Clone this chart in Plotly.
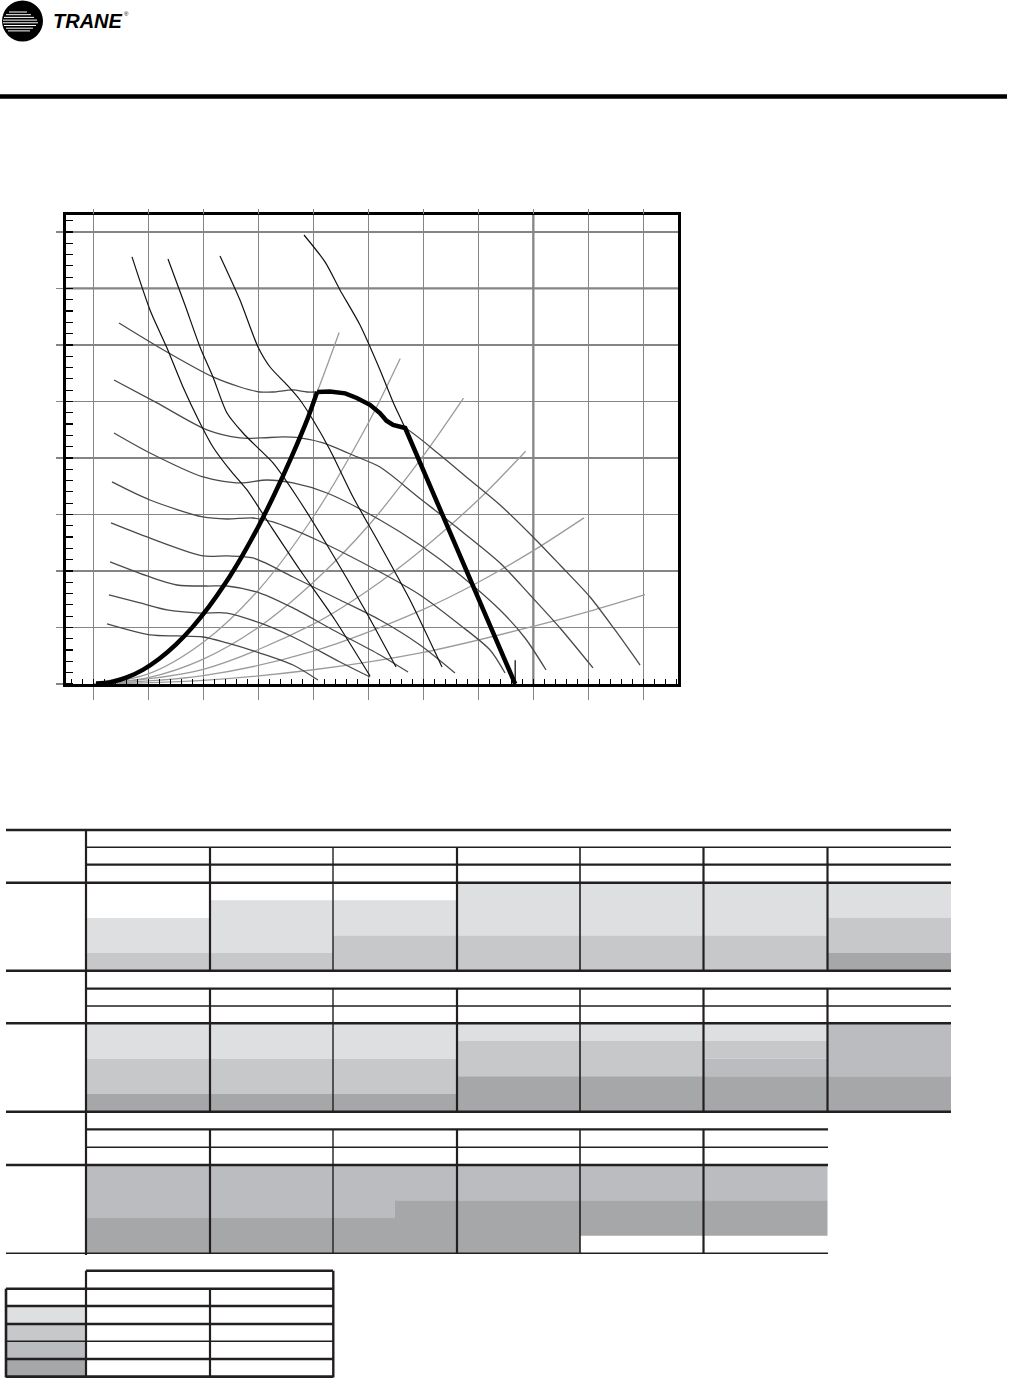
import plotly.graph_objects as go

W, H = 1012, 1378
INK = '#231f20'
GRID = '#858585'

# ---------------- fan-curve data (x: airflow, 1000 cfm ; y: static pressure, in. wg) ----------------
# operating envelope (heavy black line)
env_rise_x = [0.05, 0.30, 0.60, 0.90, 1.20, 1.50, 1.80, 2.10, 2.40, 2.70, 3.00, 3.30, 3.60, 3.90, 4.07]
env_rise_y = [0.004, 0.014, 0.056, 0.125, 0.223, 0.348, 0.501, 0.682, 0.891, 1.128, 1.392, 1.685, 2.005, 2.353, 2.584]
env_top_x = [4.07, 4.30, 4.58, 4.79, 5.03, 5.21, 5.33, 5.45, 5.67, 7.67]
env_top_y = [2.584, 2.588, 2.572, 2.531, 2.470, 2.398, 2.330, 2.292, 2.265, 0.0]

# system curves (light grey)
sys_curves = {
    'A': ([0, 1.0, 2.0, 3.0, 3.5, 4.07, 4.47], [0, 0.150, 0.620, 1.400, 1.910, 2.584, 3.110]),
    'B': ([0, 1, 2, 3, 4, 5, 5.58], [0, 0.090, 0.370, 0.830, 1.480, 2.310, 2.880]),
    'C': ([0, 1, 2, 3, 4, 5, 6, 6.73], [0, 0.056, 0.220, 0.500, 0.900, 1.400, 2.020, 2.530]),
    'D': ([0, 2, 4, 5, 6, 7, 7.86], [0, 0.130, 0.530, 0.830, 1.200, 1.630, 2.060]),
    'E': ([0, 2, 4, 6, 7, 8, 8.92], [0, 0.074, 0.290, 0.660, 0.900, 1.180, 1.470]),
    'F': ([0, 2, 4, 6, 8, 9, 10.03], [0, 0.032, 0.126, 0.280, 0.510, 0.640, 0.790]),
}

# fan speed curves (dark grey)
rpm_curves = {
    'R1': ([0.467, 1.340, 2.176, 2.667, 3.031, 3.267, 3.631, 3.885, 4.067, 4.304, 4.795, 5.213, 5.449, 5.667,
            6.304, 6.849, 7.395, 7.995, 8.485, 9.031, 9.485, 9.940],
           [3.195, 2.938, 2.717, 2.628, 2.584, 2.584, 2.602, 2.584, 2.584, 2.588, 2.531, 2.398, 2.292, 2.265,
            2.027, 1.805, 1.584, 1.301, 1.053, 0.770, 0.478, 0.168]),
    'R2': ([0.376, 1.158, 2.067, 2.667, 3.031, 3.449, 3.758, 4.176, 4.795, 5.213, 5.904, 6.667, 7.395, 7.940,
            8.485, 9.085],
           [2.690, 2.487, 2.248, 2.177, 2.177, 2.186, 2.177, 2.133, 2.009, 1.920, 1.655, 1.363, 1.071, 0.788,
            0.496, 0.142]),
    'R3': ([0.376, 1.031, 1.995, 2.667, 3.158, 3.631, 4.249, 5.213, 5.940, 6.667, 7.395, 7.849, 8.231],
           [2.221, 2.044, 1.832, 1.779, 1.805, 1.779, 1.690, 1.451, 1.230, 0.965, 0.655, 0.407, 0.124]),
    'R4': ([0.340, 1.031, 1.995, 2.431, 2.904, 3.267, 4.067, 5.213, 5.940, 6.667, 7.213, 7.485],
           [1.788, 1.628, 1.478, 1.460, 1.469, 1.434, 1.274, 0.991, 0.788, 0.522, 0.301, 0.097]),
    'R5': ([0.322, 0.976, 1.995, 2.431, 2.904, 3.631, 4.485, 5.213, 5.940, 6.576],
           [1.425, 1.301, 1.133, 1.133, 1.115, 0.947, 0.743, 0.566, 0.345, 0.097]),
    'R6': ([0.304, 1.031, 1.522, 2.067, 2.431, 3.031, 3.631, 4.358, 5.213, 5.722],
           [1.080, 0.947, 0.876, 0.867, 0.867, 0.805, 0.673, 0.478, 0.257, 0.106]),
    'R7': ([0.285, 0.849, 1.340, 1.940, 2.431, 3.031, 3.631, 4.485, 5.031],
           [0.788, 0.717, 0.655, 0.628, 0.628, 0.540, 0.416, 0.195, 0.062]),
    'R8': ([0.249, 1.031, 1.522, 1.995, 2.431, 3.031, 3.631, 4.085],
           [0.531, 0.434, 0.425, 0.416, 0.363, 0.274, 0.168, 0.035]),
}

# power curves (black)
bhp_curves = {
    'K1': ([0.704, 1.031, 1.340, 1.631, 1.940, 2.176, 2.485, 2.795, 3.213, 3.758, 4.395, 5.031],
           [3.779, 3.310, 2.973, 2.628, 2.310, 2.097, 1.894, 1.717, 1.407, 1.009, 0.566, 0.071]),
    'K2': ([1.358, 1.667, 1.940, 2.176, 2.431, 2.722, 3.031, 3.267, 3.704, 4.304, 4.940, 5.504],
           [3.761, 3.354, 2.982, 2.717, 2.398, 2.221, 2.071, 1.956, 1.655, 1.186, 0.655, 0.150]),
    'K3': ([2.304, 2.667, 2.995, 3.213, 3.522, 3.758, 3.995, 4.304, 4.722, 5.213, 5.758, 6.340],
           [3.788, 3.398, 2.982, 2.805, 2.646, 2.513, 2.336, 2.071, 1.655, 1.230, 0.743, 0.150]),
    'K4': ([3.831, 4.213, 4.485, 4.849, 5.213, 5.449, 5.667, 7.67],
           [3.973, 3.735, 3.487, 3.177, 2.779, 2.496, 2.265, 0.0]),
}
marker_tick_x = [7.67, 7.67]
marker_tick_y = [0.0, 0.21]

# ---------------- rating tables: shade level per cell row (0 white, 1..4 grey) ----------------
table1_levels = [[0, 0, 1, 1, 2], [0, 1, 1, 1, 2], [0, 1, 1, 2, 2], [1, 1, 1, 2, 2],
                 [1, 1, 1, 2, 2], [1, 1, 1, 2, 2], [1, 1, 2, 2, 4]]
table2_levels = [[1, 1, 2, 2, 4], [1, 1, 2, 2, 4], [1, 1, 2, 2, 4], [1, 2, 2, 4, 4],
                 [1, 2, 2, 4, 4], [1, 2, 3, 4, 4], [3, 3, 3, 4, 4]]
table3_levels_left = [[3, 3, 3, 4, 4], [3, 3, 3, 4, 4], [3, 3, 3, 4, 4], [3, 3, 4, 4, 4],
                      [3, 3, 4, 4, 0], [3, 3, 4, 4, 0]]
table3_levels_right = [[3, 3, 3, 4, 4], [3, 3, 3, 4, 4], [3, 3, 4, 4, 4], [3, 3, 4, 4, 4],
                       [3, 3, 4, 4, 0], [3, 3, 4, 4, 0]]
legend_levels = [1, 2, 3, 4]
level_colors = {1: '#dedfe1', 2: '#c7c8ca', 3: '#bbbcbf', 4: '#a6a7a9'}

# ---------------- figure ----------------
fig = go.Figure()


def X(px):
    return px / W


def Y(py):
    return 1 - py / H


for name, (xs, ys) in sys_curves.items():
    fig.add_trace(go.Scatter(x=xs, y=ys, mode='lines', line=dict(color='#9b9b9b', width=1.3, shape='spline', smoothing=0.9),
                             hoverinfo='skip', showlegend=False))
for name, (xs, ys) in rpm_curves.items():
    fig.add_trace(go.Scatter(x=xs, y=ys, mode='lines', line=dict(color='#4a4a4a', width=1.3, shape='spline', smoothing=0.8),
                             hoverinfo='skip', showlegend=False))
for name, (xs, ys) in bhp_curves.items():
    fig.add_trace(go.Scatter(x=xs, y=ys, mode='lines', line=dict(color='#111111', width=1.2, shape='spline', smoothing=0.7),
                             hoverinfo='skip', showlegend=False))
fig.add_trace(go.Scatter(x=marker_tick_x, y=marker_tick_y, mode='lines', line=dict(color='black', width=1.2),
                         hoverinfo='skip', showlegend=False))
fig.add_trace(go.Scatter(x=env_rise_x, y=env_rise_y, mode='lines', line=dict(color='black', width=4.5, shape='spline', smoothing=0.6),
                         hoverinfo='skip', showlegend=False))
fig.add_trace(go.Scatter(x=env_top_x, y=env_top_y, mode='lines', line=dict(color='black', width=4.5),
                         hoverinfo='skip', showlegend=False))
# helper trace for the top tick extension axis
fig.add_trace(go.Scatter(x=[0], y=[0], xaxis='x2', mode='markers', marker=dict(opacity=0), hoverinfo='skip', showlegend=False))

XR = [-0.496, 10.63]
YR = [0, 4.150]

shapes = []
# heavier grid lines
shapes.append(dict(type='line', xref='x', yref='y', x0=8, x1=8, y0=YR[0], y1=YR[1], line=dict(color=GRID, width=2.3), layer='between'))
shapes.append(dict(type='line', xref='x', yref='y', x0=XR[0], x1=XR[1], y0=3.5, y1=3.5, line=dict(color=GRID, width=2.3), layer='between'))


def hline(y, x0, x1, w):
    shapes.append(dict(type='line', xref='paper', yref='paper', x0=X(x0), x1=X(x1), y0=Y(y), y1=Y(y),
                       line=dict(color=INK, width=w), layer='above'))


def vline(x, y0, y1, w):
    shapes.append(dict(type='line', xref='paper', yref='paper', x0=X(x), x1=X(x), y0=Y(y0), y1=Y(y1),
                       line=dict(color=INK, width=w), layer='above'))


def box(x0, y0, x1, y1, fill):
    shapes.append(dict(type='rect', xref='paper', yref='paper', x0=X(x0), x1=X(x1), y0=Y(y1), y1=Y(y0),
                       fillcolor=fill, line=dict(width=0), layer='above'))


# header: logo + rule
shapes.append(dict(type='circle', xref='paper', yref='paper', x0=X(2), x1=X(43), y0=Y(41.5), y1=Y(0.5),
                   fillcolor='black', line=dict(width=0), layer='above'))
stripe_spans = [(9, 27), (6, 31), (4, 34), (3, 37), (3, 38), (4, 36), (6, 33), (8, 30)]
for i, (a, b) in enumerate(stripe_spans):
    yy = 12.0 + i * 2.7
    shapes.append(dict(type='line', xref='paper', yref='paper', x0=X(a), x1=X(b), y0=Y(yy), y1=Y(yy),
                       line=dict(color='white', width=1.0), layer='above'))
shapes.append(dict(type='line', xref='paper', yref='paper', x0=0, x1=X(1007), y0=Y(96.5), y1=Y(96.5),
                   line=dict(color='black', width=4.5), layer='above'))

# table geometry
col_edges = [86, 210, 333, 457, 580, 703.5, 827.5, 951]
sep_widths = [2.2, 1.4, 2.2, 1.6, 2.2, 2.2]
n_sub = 5


def shade_runs(levels, xl, xr, top, rh):
    r = 0
    while r < n_sub:
        lv = levels[r]
        r2 = r
        while r2 + 1 < n_sub and levels[r2 + 1] == lv:
            r2 += 1
        if lv:
            box(xl, top + r * rh, xr, top + (r2 + 1) * rh, level_colors[lv])
        r = r2 + 1


def shade_body(levels_left, levels_right, top, bottom):
    rh = (bottom - top) / n_sub
    for c, (ll, rr) in enumerate(zip(levels_left, levels_right)):
        xl, xr = col_edges[c], col_edges[c + 1]
        if ll == rr:
            shade_runs(ll, xl, xr, top, rh)
        else:
            xm = (xl + xr) / 2
            shade_runs(ll, xl, xm + 0.5, top, rh)
            shade_runs(rr, xm, xr, top, rh)


shade_body(table1_levels, table1_levels, 882.7, 970.7)
shade_body(table2_levels, table2_levels, 1023.3, 1111.7)
shade_body(table3_levels_left, table3_levels_right, 1165, 1253.3)

# table 1 rules
hline(830, 6, 951, 2.4)
hline(847.3, 86, 951, 1.4)
hline(864.7, 86, 951, 2.2)
hline(882.7, 6, 951, 2.4)
hline(970.7, 6, 951, 2.4)
for c in range(6):
    vline(col_edges[c + 1], 847.3, 970.7, sep_widths[c])
# table 2 rules
hline(988.7, 86, 951, 2.2)
hline(1006, 86, 951, 1.4)
hline(1023.3, 6, 951, 2.4)
hline(1111.7, 6, 951, 2.4)
for c in range(6):
    vline(col_edges[c + 1], 988.7, 1111.7, sep_widths[c])
# table 3 rules
hline(1129.3, 86, 828, 2.2)
hline(1147.3, 86, 828, 1.4)
hline(1165, 6, 828, 2.4)
hline(1253.3, 6, 828, 1.4)
for c in range(5):
    vline(col_edges[c + 1], 1129.3, 1253.3, sep_widths[c])
# stub column rule
vline(86, 830, 1255, 2.2)

# key table
key_rows = [1306, 1324, 1341.3, 1359, 1376.7]
for i, lv in enumerate(legend_levels):
    box(6, key_rows[i], 86, key_rows[i + 1], level_colors[lv])
hline(1270.7, 86, 333, 2.4)
hline(1288.7, 6, 333, 2.4)
hline(1306, 6, 333, 2.4)
hline(1324, 6, 333, 2.4)
hline(1341.3, 6, 333, 1.4)
hline(1359, 6, 333, 2.4)
hline(1376.7, 6, 333, 2.8)
vline(6, 1288.7, 1377.5, 2.6)
vline(86, 1270.7, 1377.5, 2.2)
vline(210, 1288.7, 1377.5, 2.2)
vline(333.3, 1270.7, 1377.5, 2.4)

annotations = [
    dict(text='<b><i>TRANE</i></b>', x=X(51), y=Y(20.5), xref='paper', yref='paper', xanchor='left', yanchor='middle',
         showarrow=False, font=dict(family='Liberation Sans', size=20, color='black')),
    dict(text='®', x=X(121.5), y=Y(14), xref='paper', yref='paper', xanchor='left', yanchor='middle',
         showarrow=False, font=dict(family='Liberation Sans', size=6, color='black')),
]

fig.update_layout(
    width=W, height=H, margin=dict(l=0, r=0, t=0, b=0, pad=0),
    paper_bgcolor='white', plot_bgcolor='white', showlegend=False,
    shapes=shapes, annotations=annotations,
    xaxis=dict(domain=[X(66), X(678)], range=XR, tick0=0, dtick=1, showgrid=True, gridcolor=GRID, gridwidth=1.3,
               ticks='outside', ticklen=13, tickcolor=GRID, tickwidth=1.3, showticklabels=False,
               showline=True, linecolor='black', linewidth=3, mirror=True, zeroline=False, fixedrange=True,
               minor=dict(ticks='inside', ticklen=5, tick0=0, dtick=0.2, tickcolor='black', tickwidth=1, showgrid=False)),
    xaxis2=dict(overlaying='x', side='top', anchor='y', range=XR, tick0=0, dtick=1, ticks='outside', ticklen=5,
                tickcolor=GRID, tickwidth=1.3, showticklabels=False, showgrid=False, showline=False, zeroline=False),
    yaxis=dict(domain=[Y(684), Y(215)], range=YR, tick0=0, dtick=0.5, showgrid=True, gridcolor=GRID, gridwidth=1.3,
               ticks='outside', ticklen=7, tickcolor=GRID, tickwidth=1.3, showticklabels=False,
               showline=True, linecolor='black', linewidth=3, mirror=True, zeroline=False, fixedrange=True,
               minor=dict(ticks='inside', ticklen=7, tick0=0, dtick=0.1, tickcolor='black', tickwidth=1.2, showgrid=False)),
)

fig.write_html('out.html', config={'displayModeBar': False, 'staticPlot': True},
               post_script="document.body.style.margin='0px';document.body.style.overflow='hidden';")
